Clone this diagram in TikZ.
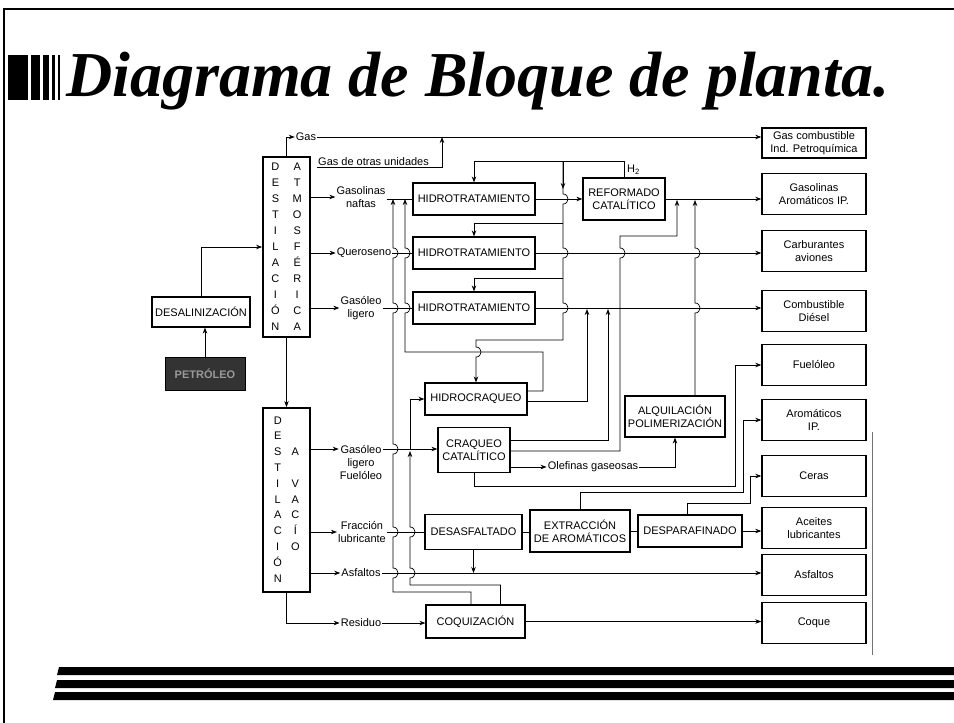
\documentclass[tikz,border=0pt]{standalone}
\usepackage{fontspec}
\setmainfont{Liberation Sans}
\newfontfamily\titlefont{Liberation Serif}
\usetikzlibrary{arrows.meta, calc, positioning}
\tikzset{
    proc/.style={draw, line width=1.2pt, align=center, inner sep=1pt, font=\fontsize{11}{13}\selectfont},
    prod/.style={draw, line width=1.4pt, align=center, inner sep=1pt, minimum width=104pt, minimum height=41pt, font=\fontsize{11}{13}\selectfont},
    colbox/.style={draw, line width=1.8pt, inner sep=0pt, minimum width=47pt, font=\fontsize{11}{13}\selectfont},
    lbl/.style={align=center, inner sep=1pt, font=\fontsize{11}{13}\selectfont},
    flow/.style={line width=0.7pt}
}
% salto de una linea vertical sobre una horizontal
\newcommand{\hopU}[2]{-- (#1,#2+5) .. controls (#1+6.7,#2+5) and (#1+6.7,#2-5) .. (#1,#2-5)}
\newcommand{\hopD}[2]{-- (#1,#2-5) .. controls (#1+6.7,#2-5) and (#1+6.7,#2+5) .. (#1,#2+5)}

\begin{document}
\begin{tikzpicture}[x=1pt, y=-1pt, >={Stealth[length=6pt, width=4.5pt]}]
\useasboundingbox (0,0) rectangle (954,723);

  % marco y titulo
  \draw[line width=2.5pt] (4,723) -- (4,9) -- (954,9);
  \foreach \a/\b in {8/28, 31/40, 43/49, 52/55, 58/60}
    \fill (\a,55) rectangle (\b,100);
  \node[anchor=base west, inner sep=0pt, font=\titlefont\fontsize{64}{64}\bfseries\itshape\selectfont] (title) at (66,96) {Diagrama de Bloque de planta.};
  \foreach \t/\s in {667/57, 680/55, 692/53}
    \fill (\s+2,\t) -- (954,\t) -- (954,\t+8) -- (\s,\t+8) -- cycle;
  \draw[black!55, line width=0.5pt] (872,432) -- (872,655);

  % productos
  \node[prod, minimum height=30pt] (gasc) at (814,143) {Gas combustible\\Ind. Petroquímica};
  \node[prod] (gasol) at (814,194) {Gasolinas\\Aromáticos IP.};
  \node[prod] (carb) at (814,251) {Carburantes\\aviones};
  \node[prod] (dies) at (814,311) {Combustible\\Diésel};
  \node[prod] (fuel) at (814,365) {Fuelóleo};
  \node[prod] (arom) at (814,420) {Aromáticos\\IP.};
  \node[prod] (ceras) at (814,476) {Ceras};
  \node[prod] (aceit) at (814,528) {Aceites\\lubricantes};
  \node[prod] (asf) at (814,575) {Asfaltos};
  \node[prod] (coque) at (814,623) {Coque};

  % entrada y destilacion
  \node[proc, minimum width=98pt, minimum height=30pt] (desal) at (201,312) {DESALINIZACIÓN};
  \node[draw, fill=black!80, text=black!40, minimum width=80pt, minimum height=33pt, font=\fontsize{11}{13}\bfseries\selectfont] (petro) at (205,374) {PETRÓLEO};
  \node[colbox, minimum height=180pt] (da) at (286.5,247)
    {\def\arraystretch{1.23}\begin{tabular}{@{}c@{\hspace{13pt}}c@{}}
     D&A\\E&T\\S&M\\T&O\\I&S\\L&F\\A&É\\C&R\\I&I\\Ó&C\\N&A
     \end{tabular}};
  \node[colbox, minimum height=184pt] (dv) at (286.5,500)
    {\def\arraystretch{1.215}\begin{tabular}{@{}c@{\hspace{9pt}}c@{}}
     D&\\E&\\S&A\\T&\\I&V\\L&A\\A&C\\C&Í\\I&O\\Ó&\\N&
     \end{tabular}};

  % procesos
  \node[proc, minimum width=122pt, minimum height=32pt] (h1) at (474,199) {HIDROTRATAMIENTO};
  \node[proc, minimum width=122pt, minimum height=32pt] (h2) at (474,253) {HIDROTRATAMIENTO};
  \node[proc, minimum width=122pt, minimum height=32pt] (h3) at (474,308) {HIDROTRATAMIENTO};
  \node[proc, minimum width=82pt, minimum height=42pt] (ref) at (624,199) {REFORMADO\\CATALÍTICO};
  \node[proc, minimum width=102pt, minimum height=32pt] (hc) at (476,399) {HIDROCRAQUEO};
  \node[proc, minimum width=72pt, minimum height=45pt] (cc) at (474,450) {CRAQUEO\\CATALÍTICO};
  \node[proc, minimum width=100pt, minimum height=41pt] (alq) at (675,416.5) {ALQUILACIÓN\\POLIMERIZACIÓN};
  \node[proc, minimum width=97pt, minimum height=35pt] (desasf) at (473.5,532) {DESASFALTADO};
  \node[proc, minimum width=100pt, minimum height=42pt] (extr) at (580,531) {EXTRACCIÓN\\DE AROMÁTICOS};
  \node[proc, minimum width=104pt, minimum height=32pt] (desp) at (690,531) {DESPARAFINADO};
  \node[proc, minimum width=99pt, minimum height=33pt] (coq) at (475.5,621.5) {COQUIZACIÓN};

  % etiquetas de corrientes
  \node[lbl] (gaslbl) at (306,137) {Gas};
  \node[lbl, anchor=south west] (otras) at (317,167) {Gas de otras unidades};
  \node[lbl] (nafta) at (361,197) {Gasolinas\\naftas};
  \node[lbl] (quer) at (364,253) {Queroseno};
  \node[lbl] (gol) at (361,308) {Gasóleo\\ligero};
  \node[lbl] (golv) at (361,462) {Gasóleo\\ligero\\Fuelóleo};
  \node[lbl] (frac) at (362,532) {Fracción\\lubricante};
  \node[lbl] (asfl) at (361,573) {Asfaltos};
  \node[lbl] (resid) at (361,623) {Residuo};
  \node[lbl] (olef) at (593,467) {Olefinas gaseosas};
  \node[lbl, anchor=west] (htwo) at (626,170) {H\textsubscript{2}};
  \coordinate (gasj) at (442,137);
  \coordinate (golvin) at ([yshift=13pt]golv.west);

  % gases
  \draw[flow,->] (da.north) |- (gaslbl.west);
  \draw[flow,->] (gaslbl.east) -- (gaslbl.east -| gasc.west);
  \draw[flow,->] (otras.south west) -| (gasj);

  % destilacion atmosferica
  \draw[flow,->] (petro.north) -- (petro.north |- desal.south);
  \draw[flow,->] (desal.north) |- (da.west);
  \draw[flow,->] (da.east |- nafta) -- (nafta.west);
  \draw[flow,->] (da.east |- quer) -- (quer.west);
  \draw[flow,->] (da.east |- gol) -- (gol.west);
  \draw[flow,->] (da.south) -- (dv.north);
  \draw[flow] (nafta.east |- h1.west) -- (h1.west);
  \draw[flow] (quer.east) -- (h2.west);
  \draw[flow] (gol.east |- h3.west) -- (h3.west);

  % hidrogeno
  \draw[flow,->] (ref.north) -- (624,161) -| (h1.north);
  \draw[flow,->] (563,161) -- (563,189);
  \draw[flow,->] (563,161) \hopD{563}{199} \hopD{563}{253} \hopD{563}{308} -- (563,340) -- (476,340) \hopD{476}{352} -- (hc.north);
  \draw[flow,->] (563,223) -| (h2.north);
  \draw[flow,->] (563,278) -| (h3.north);

  % salidas de hidrotratamiento
  \draw[flow,->] (h1.east) -- (ref.west);
  \draw[flow,->] (ref.east) -- (ref.east -| gasol.west);
  \draw[flow,->] (h2.east) -- (h2.east -| carb.west);
  \draw[flow,->] (h3.east) -- (h3.east -| dies.west);

  % reciclos
  \draw[flow,->] ([xshift=-4.5pt]coq.north) |- (393,592) \hopU{393}{573} \hopU{393}{532} \hopU{393}{449} \hopU{393}{308} \hopU{393}{253} -- (393,199);
  \draw[flow,->] ([yshift=8pt]hc.east) -| (543,352) -- (405,352) \hopU{405}{308} \hopU{405}{253} -- (405,199);
  \draw[flow,->] ([xshift=25pt]coq.north) |- (410,585) \hopU{410}{573} \hopU{410}{532} -- (410,451);

  % craqueo
  \draw[flow,->] ([yshift=-2pt]hc.east) -| (587,309);
  \draw[flow,->] ([yshift=10pt]cc.east) -| (608,309);
  \draw[flow,->] ([yshift=-1pt]cc.east) -- (620,451) \hopU{620}{253} -- (620,236) -| (677,200);
  \draw[flow,->] ([yshift=-17pt]cc.east) -- (olef.west);
  \draw[flow,->] (olef.east) -| (alq.south);
  \draw[flow,->] ([xshift=20pt]alq.north) \hopU{695}{308} \hopU{695}{253} -- (695,200);
  \draw[flow,->] (cc.south) |- (735,486) |- (fuel.west);

  % destilacion a vacio
  \draw[flow,->] (dv.east |- golvin) -- (golvin);
  \draw[flow,->] (golv.east |- golvin) -- (cc.west |- golvin);
  \draw[flow,->] (410,449) |- (hc.west);
  \draw[flow,->] (dv.east |- frac) -- (frac.west);
  \draw[flow] (frac.east |- desasf.west) -- (desasf.west);
  \draw[flow,->] (dv.east |- asfl) -- (asfl.west);
  \draw[flow,->] (asfl.east) -- (asfl.east -| asf.west);
  \draw[flow,->] (desasf.south) -- (desasf.south |- asfl.east);
  \draw[flow] (desasf.east) -- (desasf.east -| extr.west);
  \draw[flow] (extr.east) -- (extr.east -| desp.west);
  \draw[flow,->] (desp.east) -- (desp.east -| aceit.west);
  \draw[flow,->] (extr.north) |- (743,492) |- (arom.west);
  \draw[flow,->] ([xshift=-3pt]desp.north) |- (750,503) |- (ceras.west);
  \draw[flow,->] (dv.south) |- (resid.west);
  \draw[flow,->] (resid.east) -- (resid.east -| coq.west);
  \draw[flow,->] (coq.east) -- (coq.east -| coque.west);
\end{tikzpicture}
\end{document}
